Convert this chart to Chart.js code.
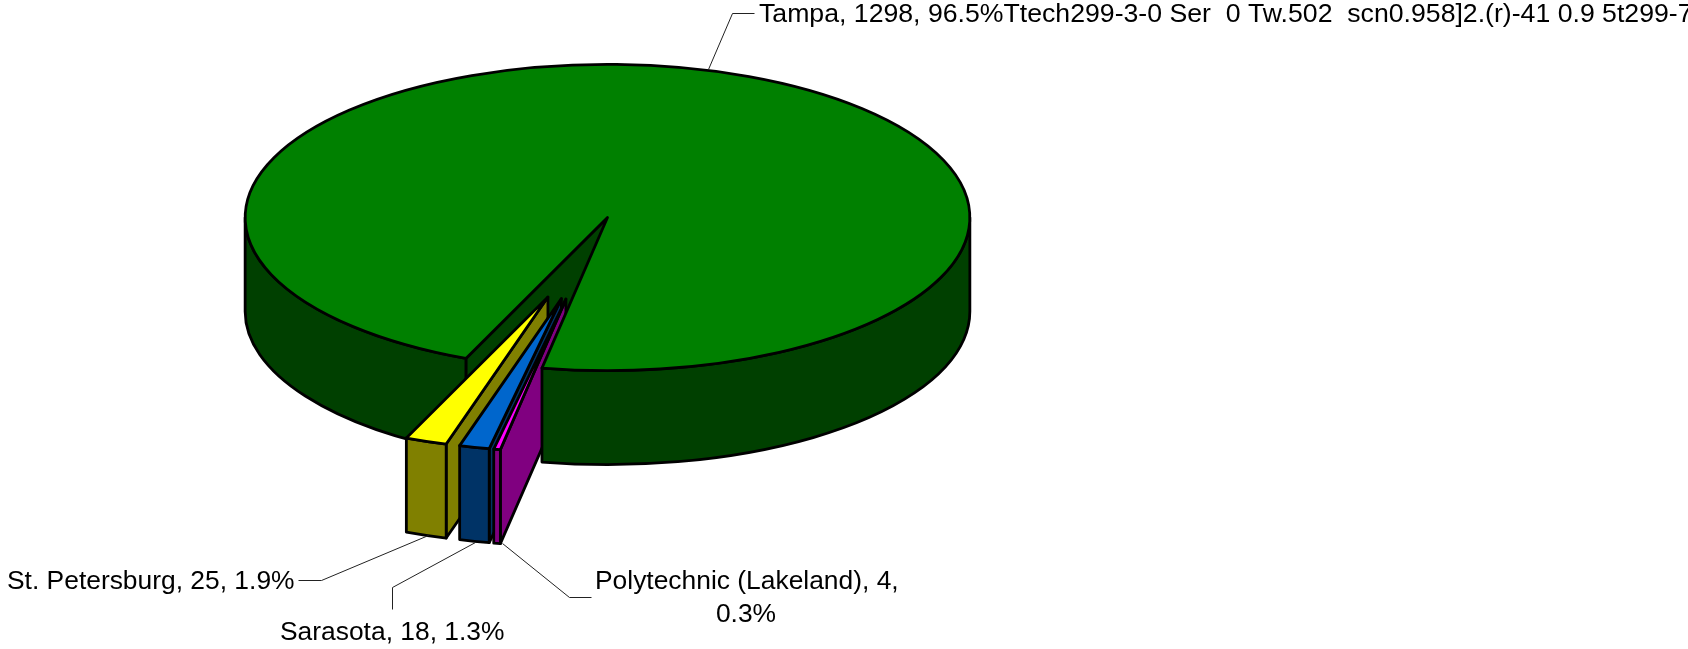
<!DOCTYPE html>
<html>
<head>
<meta charset="utf-8">
<title>Students by campus</title>
<script src="https://cdn.jsdelivr.net/npm/chart.js@4"></script>
<style>
html, body { margin: 0; padding: 0; background: #fff; overflow: hidden; }
canvas { display: block; }
</style>
</head>
<body>
<canvas id="grafico" width="1688" height="649"></canvas>
<script>
// dados
const categories = ['Tampa', 'Polytechnic (Lakeland)', 'Sarasota', 'St. Petersburg'];
const values = [1298, 4, 18, 25];
const percents = ['96.5', '0.3', '1.3', '1.9'];
const tampaTrailer = 'Ttech299-3-0 Ser  0 Tw.502  scn0.958]2.(r)-41 0.9 5t299-7';

const topColors = ['#008000', '#FF00FF', '#0066CC', '#FFFF00'];
const sideColors = ['#004000', '#800080', '#003366', '#808000'];

// aparencia da pizza 3D
const stretchX = 1.666;
const stretchY = 0.704;
const depth = 94;
const explode = [0, 0.545, 0.545, 0.545];
const explodeTilt = [0, 1.2, -0.4, -2.1]; // graus

// linhas de chamada
const leaders = [
    [[708, 69], [732, 13], [754, 13]],
    [[502, 543], [569, 597], [591, 597]],
    [[475, 542], [392, 587], [392, 609]],
    [[428, 535], [321, 580], [298, 580]]
];

function sliceGeometry(arc, i) {
    const r = arc.outerRadius;
    const mid = (arc.startAngle + arc.endAngle) / 2 + explodeTilt[i] * Math.PI / 180;
    return {
        x: arc.x + Math.cos(mid) * explode[i] * r * stretchX,
        y: arc.y + Math.sin(mid) * explode[i] * r * stretchY,
        rx: r * stretchX,
        ry: r * stretchY,
        a: arc.startAngle,
        b: arc.endAngle
    };
}

function paint(ctx, fill) {
    ctx.fillStyle = fill;
    ctx.fill();
    ctx.stroke();
}

function drawWall(ctx, g, ang, fill) {
    const ex = g.x + Math.cos(ang) * g.rx;
    const ey = g.y + Math.sin(ang) * g.ry;
    ctx.beginPath();
    ctx.moveTo(g.x, g.y);
    ctx.lineTo(ex, ey);
    ctx.lineTo(ex, ey + depth);
    ctx.lineTo(g.x, g.y + depth);
    ctx.closePath();
    paint(ctx, fill);
}

// paredes do corte so quando viradas para a frente
function drawWalls(ctx, g, side) {
    if (Math.cos(g.a) < 0) drawWall(ctx, g, g.a, side);
    if (Math.cos(g.b) > 0) drawWall(ctx, g, g.b, side);
}

// parede externa: so a metade de baixo da elipse aparece (k = volta)
function drawOuter(ctx, g, side, k) {
    const from = Math.max(g.a, k * 2 * Math.PI);
    const to = Math.min(g.b, k * 2 * Math.PI + Math.PI);
    if (to <= from) return;
    ctx.beginPath();
    ctx.ellipse(g.x, g.y, g.rx, g.ry, 0, from, to);
    ctx.ellipse(g.x, g.y + depth, g.rx, g.ry, 0, to, from, true);
    ctx.closePath();
    paint(ctx, side);
}

function drawTop(ctx, g, top) {
    ctx.beginPath();
    ctx.moveTo(g.x, g.y);
    ctx.ellipse(g.x, g.y, g.rx, g.ry, 0, g.a, g.b);
    ctx.closePath();
    paint(ctx, top);
}

function drawLabels(ctx) {
    ctx.strokeStyle = '#222';
    ctx.lineWidth = 1;
    ctx.lineJoin = 'miter';
    leaders.forEach(pts => {
        ctx.beginPath();
        pts.forEach((p, n) => n ? ctx.lineTo(p[0] + 0.5, p[1] + 0.5) : ctx.moveTo(p[0] + 0.5, p[1] + 0.5));
        ctx.stroke();
    });

    const text = i => categories[i] + ', ' + values[i] + ', ' + percents[i] + '%';
    ctx.fillStyle = '#000';
    ctx.textBaseline = 'alphabetic';
    ctx.textAlign = 'left';
    ctx.font = '26.67px "Liberation Sans"';
    ctx.fillText(text(0) + tampaTrailer, 759, 22);
    ctx.font = '26.4px "Liberation Sans"';
    ctx.fillText(text(3), 7, 589);
    ctx.fillText(text(2), 280, 640);
    ctx.fillText(categories[1] + ', ' + values[1] + ',', 595, 589);
    ctx.textAlign = 'center';
    ctx.fillText(percents[1] + '%', 746, 622);
}

const pizza3d = {
    id: 'pizza3d',
    beforeDatasetsDraw(chart) {
        const ctx = chart.ctx;
        const arcs = chart.getDatasetMeta(0).data;
        const geo = arcs.map((arc, i) => sliceGeometry(arc, i));
        ctx.save();
        ctx.strokeStyle = '#000';
        ctx.lineWidth = 2.8;
        ctx.lineJoin = 'round';

        // a fatia grande passa por cima das pequenas no lado direito do corte
        drawWalls(ctx, geo[0], sideColors[0]);
        drawOuter(ctx, geo[0], sideColors[0], 0);
        [3, 2, 1].forEach(i => {
            drawWalls(ctx, geo[i], sideColors[i]);
            drawOuter(ctx, geo[i], sideColors[i], 1);
            drawTop(ctx, geo[i], topColors[i]);
        });
        drawOuter(ctx, geo[0], sideColors[0], 1);
        drawTop(ctx, geo[0], topColors[0]);

        drawLabels(ctx);
        ctx.restore();
        return false; // substitui o desenho plano
    }
};

new Chart(document.getElementById('grafico').getContext('2d'), {
    type: 'pie',
    data: {
        labels: categories,
        datasets: [{ data: values, backgroundColor: topColors, borderWidth: 0 }]
    },
    options: {
        responsive: false,
        animation: false,
        rotation: 203,
        layout: { padding: { right: 473, bottom: 214 } },
        plugins: { legend: { display: false }, tooltip: { enabled: false } }
    },
    plugins: [pizza3d]
});
</script>
</body>
</html>
